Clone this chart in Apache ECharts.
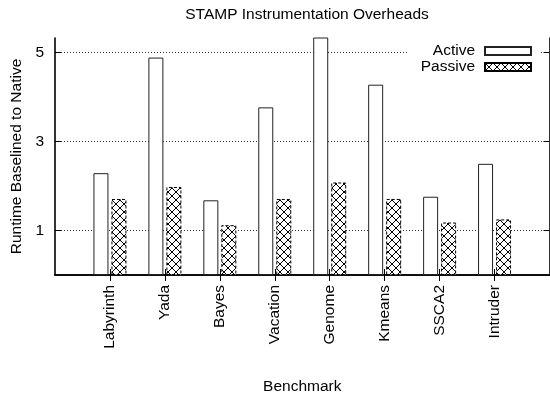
<!DOCTYPE html>
<html>
<head>
<meta charset="utf-8">
<script src="https://cdn.jsdelivr.net/npm/echarts@6/dist/echarts.min.js"></script>
<style>
  html, body { margin: 0; padding: 0; background: #fff; }
  #main { width: 550px; height: 394px; }
</style>
</head>
<body>
<div id="main"></div>
<script>
// benchmarks (blank slots at both ends give the gnuplot-style margins)
const benchmarks = ["", "Labyrinth", "Yada", "Bayes", "Vacation", "Genome", "Kmeans", "SSCA2", "Intruder", ""];
const active = [null, 2.29, 4.89, 1.68, 3.77, 5.6, 4.28, 1.76, 2.5, null];
const passive = [null, 1.71, 1.98, 1.12, 1.71, 2.08, 1.71, 1.18, 1.25, null];
const yTicks = [1, 3, 5];

const font = "'Liberation Sans', Arial, sans-serif";

// crosshatch fill for the passive bars
function hatch() {
  const c = document.createElement("canvas");
  c.width = 8;
  c.height = 8;
  const ctx = c.getContext("2d");
  ctx.fillStyle = "#fff";
  ctx.fillRect(0, 0, 8, 8);
  ctx.strokeStyle = "#000";
  ctx.lineWidth = 1;
  ctx.beginPath();
  ctx.moveTo(0, 0); ctx.lineTo(8, 8);
  ctx.moveTo(8, 0); ctx.lineTo(0, 8);
  ctx.stroke();
  return c;
}

const chart = echarts.init(document.getElementById("main"));
const hideEnds = (i) => i > 0 && i < benchmarks.length - 1;

chart.setOption({
  animation: false,
  title: {
    text: "STAMP Instrumentation Overheads",
    left: 302,
    textAlign: "center",
    top: 2,
    textStyle: { fontFamily: font, fontSize: 15.5, fontWeight: "normal", color: "#000" }
  },
  legend: {
    orient: "vertical",
    align: "right",
    right: 10,
    top: 40,
    icon: "rect",
    itemWidth: 46,
    itemHeight: 8,
    itemGap: 0,
    padding: [3, 8, 3, 12],
    backgroundColor: "#fff",
    textStyle: { fontFamily: font, fontSize: 15.5, color: "#000", lineHeight: 16, padding: [0, 5, 0, 0] },
    data: ["Active", "Passive"]
  },
  grid: { left: 55, right: 0.5, top: 38, bottom: 119, containLabel: false, outerBoundsMode: "none" },
  xAxis: [
    {
      type: "category",
      data: benchmarks,
      boundaryGap: false,
      name: "Benchmark",
      nameLocation: "middle",
      nameGap: 104,
      nameTextStyle: { fontFamily: font, fontSize: 15.5, color: "#000" },
      axisLine: { lineStyle: { color: "#000", width: 1.6 } },
      axisTick: { inside: true, length: 6, interval: hideEnds, lineStyle: { color: "#000" } },
      axisLabel: { rotate: 90, margin: 10, interval: 0, fontFamily: font, fontSize: 15.5, color: "#000" },
      splitLine: { show: false }
    },
    {
      type: "category",
      data: benchmarks,
      boundaryGap: false,
      position: "top",
      axisLine: { lineStyle: { color: "#000", width: 1.6 } },
      axisTick: { inside: true, length: 6, interval: hideEnds, lineStyle: { color: "#000" } },
      axisLabel: { show: false },
      splitLine: { show: false }
    }
  ],
  yAxis: [
    {
      type: "value",
      min: 0,
      max: 5.33,
      name: "Runtime Baselined to Native",
      nameLocation: "middle",
      nameGap: 28,
      nameTextStyle: { fontFamily: font, fontSize: 15.5, color: "#000" },
      axisLine: { show: true, lineStyle: { color: "#000", width: 1.6 } },
      axisTick: { show: true, inside: true, length: 6, customValues: yTicks, lineStyle: { color: "#000" } },
      axisLabel: { customValues: yTicks, margin: 11, fontFamily: font, fontSize: 15.5, color: "#000" },
      splitLine: { show: true, lineStyle: { color: "#333", width: 1, type: [1, 2] } }
    },
    {
      type: "value",
      min: 0,
      max: 5.33,
      position: "right",
      axisLine: { show: true, lineStyle: { color: "#000", width: 1.6 } },
      axisTick: { show: true, inside: true, length: 6, customValues: yTicks, lineStyle: { color: "#000" } },
      axisLabel: { show: false },
      splitLine: { show: false }
    }
  ],
  series: [
    {
      name: "Active",
      type: "bar",
      data: active,
      barWidth: 15,
      barGap: "20%",
      clip: true,
      itemStyle: { color: "#fff", borderColor: "#222", borderWidth: 1 }
    },
    {
      name: "Passive",
      type: "bar",
      data: passive,
      barWidth: 15,
      clip: true,
      itemStyle: {
        color: { image: hatch(), repeat: "repeat" },
        borderColor: "#000",
        borderWidth: 1,
        borderType: [3, 2]
      }
    }
  ]
});
</script>
</body>
</html>
